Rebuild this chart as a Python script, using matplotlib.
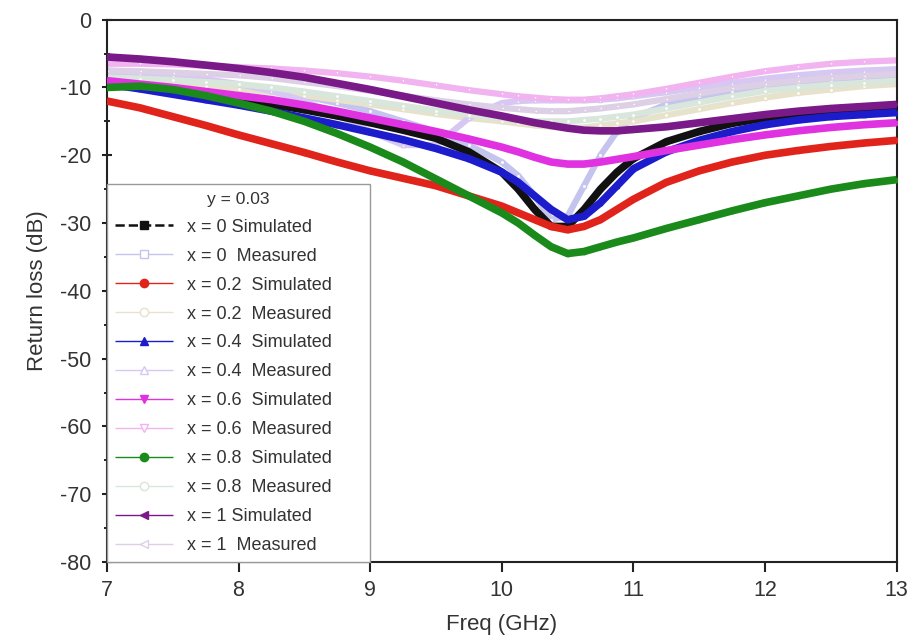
import matplotlib
matplotlib.use("Agg")
import matplotlib.pyplot as plt
import numpy as np

plt.rcParams['font.family'] = ['Liberation Sans', 'DejaVu Sans']
plt.rcParams['axes.unicode_minus'] = False

# Frequency grid (GHz), finer around the resonance
freq = [7.0, 7.25, 7.5, 7.75, 8.0, 8.25, 8.5, 8.75, 9.0, 9.25, 9.5, 9.75, 10.0,
        10.125, 10.25, 10.375, 10.5, 10.625, 10.75, 10.875, 11.0, 11.25, 11.5,
        11.75, 12.0, 12.25, 12.5, 12.75, 13.0]

# Return loss (dB), simulated
sim_x0 = [-9.5, -10, -10.5, -11, -11.7, -12.5, -13.3, -14.2, -15.2, -16.3, -17.5, -19.5, -22.5,
          -25, -28, -30.5, -30.5, -28, -25, -22.5, -20.5, -18, -16.5, -15.3, -14.5, -13.8, -13.3, -13, -12.8]
sim_x02 = [-12, -13, -14.3, -15.6, -17, -18.3, -19.6, -21, -22.3, -23.4, -24.5, -26, -27.5,
           -28.5, -29.5, -30.5, -31, -30.5, -29.5, -28, -26.5, -24, -22.3, -21, -20, -19.3, -18.7, -18.2, -17.8]
sim_x04 = [-9.5, -10.2, -11, -11.8, -12.6, -13.5, -14.5, -15.5, -16.6, -17.7, -19, -20.5, -22.5,
           -24, -26, -28, -29.5, -29, -27, -24.5, -22, -19.5, -17.8, -16.5, -15.5, -14.8, -14.3, -14, -13.7]
sim_x06 = [-9, -9.5, -10, -10.6, -11.2, -11.8, -12.6, -13.5, -14.5, -15.5, -16.5, -17.6, -18.8,
           -19.5, -20.3, -21, -21.3, -21.3, -21, -20.6, -20.2, -19.3, -18.5, -17.7, -17, -16.4, -15.9, -15.5, -15.2]
sim_x08 = [-10, -9.8, -10.3, -11.2, -12.3, -13.5, -15, -16.8, -18.8, -21, -23.5, -26, -28.5,
           -30, -31.8, -33.5, -34.5, -34.2, -33.5, -32.8, -32.2, -30.8, -29.5, -28.2, -27, -26, -25, -24.2, -23.6]
sim_x1 = [-5.5, -5.8, -6.2, -6.7, -7.2, -7.8, -8.5, -9.4, -10.3, -11.3, -12.3, -13.3, -14.2,
          -14.7, -15.2, -15.6, -16, -16.3, -16.4, -16.4, -16.2, -15.8, -15.2, -14.6, -14, -13.5, -13.1, -12.8, -12.5]

# Return loss (dB), measured
meas_x0 = [-8, -8.3, -8.7, -9.2, -9.8, -10.5, -11.3, -12.3, -13.5, -15, -16.5, -18.5, -21,
           -23, -26, -29.5, -29, -24.5, -20, -16.5, -14.5, -12.5, -11.3, -10.5, -9.8, -9.3, -9, -8.7, -8.5]
meas_x02 = [-9, -9.2, -9.5, -9.8, -10.2, -10.7, -11.2, -11.8, -12.5, -13.2, -13.9, -14.5, -15,
            -15.3, -15.6, -15.8, -16, -15.9, -15.6, -15.3, -15, -14.1, -13.2, -12.3, -11.5, -10.8, -10.3, -9.8, -9.5]
meas_x04 = [-7.5, -7.8, -8.2, -8.8, -9.5, -10.5, -12, -14, -16.5, -18.5, -18.5, -14.5, -12.3,
            -12, -11.9, -11.9, -11.9, -11.9, -11.8, -11.6, -11.3, -10.7, -10, -9.3, -8.7, -8.2, -7.8, -7.5, -7.3]
meas_x06 = [-6.5, -6.5, -6.6, -6.8, -7, -7.2, -7.5, -7.9, -8.4, -9, -9.7, -10.4, -11,
            -11.3, -11.5, -11.7, -11.8, -11.8, -11.6, -11.3, -11, -10.2, -9.3, -8.4, -7.6, -7, -6.5, -6.2, -6]
meas_x08 = [-8.5, -8.7, -8.9, -9.2, -9.5, -10, -10.6, -11.3, -12, -12.7, -13.4, -14, -14.5,
            -14.8, -15, -15, -15, -14.8, -14.6, -14.3, -14, -13.1, -12.2, -11.3, -10.5, -10, -9.6, -9.3, -9]
meas_x1 = [-7.5, -7.6, -7.8, -8, -8.2, -8.6, -9.2, -9.8, -10.5, -11.2, -11.9, -12.5, -13,
           -13.2, -13.4, -13.5, -13.5, -13.3, -13.1, -12.8, -12.5, -11.7, -10.9, -10.1, -9.5, -9, -8.6, -8.3, -8]

labels = ["x = 0 Simulated", "x = 0  Measured", "x = 0.2  Simulated", "x = 0.2  Measured",
          "x = 0.4  Simulated", "x = 0.4  Measured", "x = 0.6  Simulated", "x = 0.6  Measured",
          "x = 0.8  Simulated", "x = 0.8  Measured", "x = 1 Simulated", "x = 1  Measured"]
series = [sim_x0, meas_x0, sim_x02, meas_x02, sim_x04, meas_x04,
          sim_x06, meas_x06, sim_x08, meas_x08, sim_x1, meas_x1]

colors = ['#111111', '#c4c4ee', '#e0241c', '#e6e2cc', '#1c1ccc', '#d6c8f2',
          '#e032e0', '#f2b4f0', '#1a8a1a', '#d8e6dc', '#7a1a88', '#dccfe6']
markers = ['s', 's', 'o', 'o', '^', '^', 'v', 'v', 'o', 'o', '<', '<']

fig, ax = plt.subplots(figsize=(9.14, 6.35), dpi=100)
fig.subplots_adjust(left=0.117, right=0.981, bottom=0.115, top=0.969)

# draw measured first so simulated sit on top, keep legend order
order = [1, 3, 5, 7, 9, 11, 0, 2, 4, 6, 8, 10]
lines = [None] * len(series)
for i in order:
    sim = 'Simulated' in labels[i]
    ln, = ax.plot(freq, series[i], color=colors[i], linewidth=5.5 if sim else 4.5,
                  marker=markers[i], markersize=3, markerfacecolor=colors[i] if sim else 'white',
                  markeredgecolor=colors[i], label=labels[i], zorder=3 if sim else 2,
                  solid_capstyle='butt')
    lines[i] = ln

ax.set_xlim(7, 13)
ax.set_ylim(-80, 0)
ax.set_xticks(np.arange(7, 14, 1))
ax.set_yticks(np.arange(-80, 1, 10))
ax.set_yticks(np.arange(-75, 0, 10), minor=True)
ax.tick_params(axis='both', labelsize=15.5, width=1.5, length=7, colors='#222222', labelcolor='#333333')
ax.tick_params(axis='x', pad=6)
ax.tick_params(axis='y', which='both', direction='inout', pad=8)
ax.tick_params(axis='y', which='minor', length=5, width=1.2)
for s in ax.spines.values():
    s.set_linewidth(1.5)
    s.set_color('#222222')

ax.set_xlabel('Freq (GHz)', fontsize=16, color='#333333', labelpad=9)
ax.set_ylabel('Return loss (dB)', fontsize=16, color='#333333', labelpad=8)

leg = ax.legend(lines, labels, loc='lower left', bbox_to_anchor=(0, 0, 2 / 6, 0.3),
                mode='expand', borderaxespad=0,
                title='y = 0.03', title_fontsize=12.5, fontsize=13, numpoints=1,
                handlelength=3.2, handletextpad=0.8, labelspacing=0.66, fancybox=False,
                framealpha=1, edgecolor='#999999', borderpad=0.45)
for lh in leg.get_lines():
    lh.set_linewidth(1.0)
    lh.set_markersize(6)
leg.get_lines()[0].set_linestyle('--')
leg.get_lines()[0].set_linewidth(1.8)
for t in leg.get_texts():
    t.set_color('#333333')
leg.get_title().set_color('#333333')

plt.savefig('out.png', dpi=100)
plt.close()
